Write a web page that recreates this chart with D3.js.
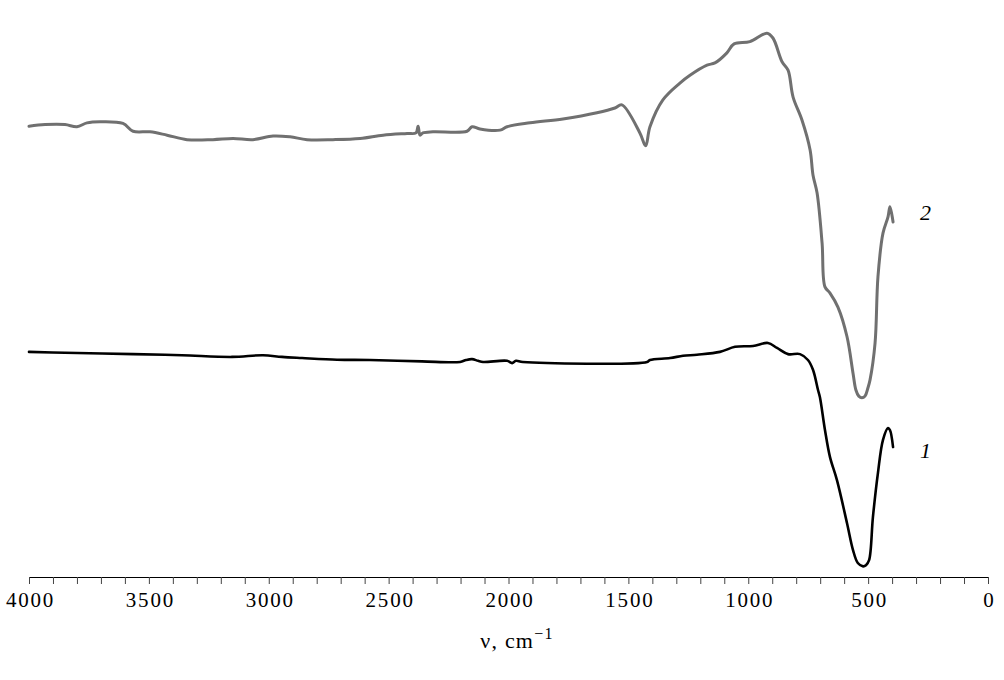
<!DOCTYPE html>
<html>
<head>
<meta charset="utf-8">
<script src="https://cdn.jsdelivr.net/npm/d3@7"></script>
<style>
  html, body { margin: 0; padding: 0; background: #fff; }
  svg { display: block; }
</style>
</head>
<body>
<svg id="chart" width="1004" height="680"></svg>
<script>
// Wavenumber (cm^-1) and relative transmittance (arbitrary units)
const curve2Wavenumber = [4000,3933,3850,3800,3758,3704,3608,3566,3495,3424,3341,3233,3149,3066,2982,2911,2840,2732,2619,2523,2423,2386,2377,2369,2357,2315,2173,2152,2119,2035,2006,1910,1773,1631,1556,1527,1452,1428,1410,1356,1285,1243,1172,1139,1089,1059,993,922,897,859,834,813,776,742,730,713,692,680,659,626,588,563,551,539,526,513,501,492,471,459,438,417,409,396];
const curve2Value = [80.5,80.8,80.8,80.4,81.1,81.3,81.0,79.6,79.5,78.9,78.1,78.1,78.3,78.1,78.75,78.6,78.1,78.1,78.3,78.9,79.2,79.3,80.5,78.9,79.3,79.5,79.6,80.4,80.0,79.8,80.4,81.1,81.8,82.9,83.75,84.3,79.3,77.0,80.4,85.2,88.2,89.6,91.4,91.8,93.6,95.2,95.6,97.1,96.25,92.0,90.5,85.7,81.6,76.25,71.8,68.6,59.6,51.8,50.7,48.2,42.9,36.4,33.4,32.3,32.0,32.3,33.75,35.2,41.8,53.6,61.4,64.3,66.1,63.4];

const curve1Wavenumber = [4000,3850,3566,3362,3153,3024,2945,2861,2715,2578,2361,2202,2177,2152,2127,2106,2006,1985,1969,1940,1422,1410,1326,1272,1214,1118,1055,980,918,880,834,784,751,730,709,701,680,659,630,588,563,543,521,509,496,480,459,438,417,409,396];
const curve1Value = [40.2,40.05,39.8,39.6,39.3,39.6,39.3,39.1,38.8,38.75,38.5,38.4,38.75,38.9,38.6,38.4,38.6,38.2,38.6,38.4,38.4,38.75,39.1,39.5,39.7,40.2,41.1,41.25,41.8,40.9,39.8,39.8,38.75,37.0,33.4,32.1,26.25,21.4,17.3,9.6,4.8,2.5,1.9,2.1,3.0,10.7,18.6,24.5,26.6,26.25,23.2];

const tickValues = d3.range(0, 4001, 100);
const labelValues = [4000, 3500, 3000, 2500, 2000, 1500, 1000, 500, 0];
const curveLabels = ["1", "2"];
const axisTitle = "ν, cm";
const axisTitleSup = "−1";

const serif = "'Liberation Serif', 'Times New Roman', serif";
const svg = d3.select("#chart");
const x = d3.scaleLinear().domain([4000, 0]).range([29, 988]);
const y = d3.scaleLinear().domain([0, 100]).range([577, 17]);

const line = d3.line().x(d => x(d[0])).y(d => y(d[1])).curve(d3.curveCatmullRom.alpha(0.5));

const data2 = curve2Wavenumber.map((v, i) => [v, curve2Value[i]]);
const data1 = curve1Wavenumber.map((v, i) => [v, curve1Value[i]]);

svg.append("path").datum(data2)
  .attr("d", line).attr("fill", "none")
  .attr("stroke", "#707070").attr("stroke-width", 3)
  .attr("stroke-linejoin", "round").attr("stroke-linecap", "round");

svg.append("path").datum(data1)
  .attr("d", line).attr("fill", "none")
  .attr("stroke", "#000").attr("stroke-width", 2.6)
  .attr("stroke-linejoin", "round").attr("stroke-linecap", "round");

// Axis
const axis = d3.axisBottom(x)
  .tickValues(tickValues)
  .tickSize(7)
  .tickSizeOuter(0)
  .tickFormat(d => labelValues.includes(d) ? String(d) : "");

const g = svg.append("g").attr("transform", "translate(0,577)").call(axis);
g.attr("font-family", serif).attr("font-size", 21);
g.select(".domain").attr("stroke", "#000").attr("stroke-width", 1.2);
g.selectAll(".tick line").attr("stroke", "#444").attr("stroke-width", 1);
g.selectAll(".tick text")
  .style("font-family", serif)
  .style("font-size", "21px")
  .style("letter-spacing", "1.8px")
  .attr("fill", "#000")
  .attr("dy", null)
  .attr("x", 1)
  .attr("y", 30);

// Axis title
const t = svg.append("text")
  .attr("x", 517).attr("y", 648)
  .attr("text-anchor", "middle")
  .style("font-family", serif)
  .style("font-size", "22px")
  .style("letter-spacing", "1.2px")
  .attr("fill", "#000");
t.append("tspan").text(axisTitle);
t.append("tspan").attr("dy", -9).style("font-size", "16px").text(axisTitleSup);

// Curve labels
const labelPos = [[curve1Wavenumber[curve1Wavenumber.length - 1], curve1Value[curve1Value.length - 1]],
                  [curve2Wavenumber[curve2Wavenumber.length - 1], curve2Value[curve2Value.length - 1]]];
svg.selectAll(".clabel").data(curveLabels).enter().append("text")
  .attr("class", "clabel")
  .attr("x", (d, i) => x(labelPos[i][0]) + 27)
  .attr("y", (d, i) => i === 0 ? y(labelPos[i][1]) + 11 : y(labelPos[i][1]) - 2)
  .style("font-family", serif)
  .style("font-style", "italic")
  .style("font-size", "22px")
  .attr("fill", "#000")
  .text(d => d);
</script>
</body>
</html>
